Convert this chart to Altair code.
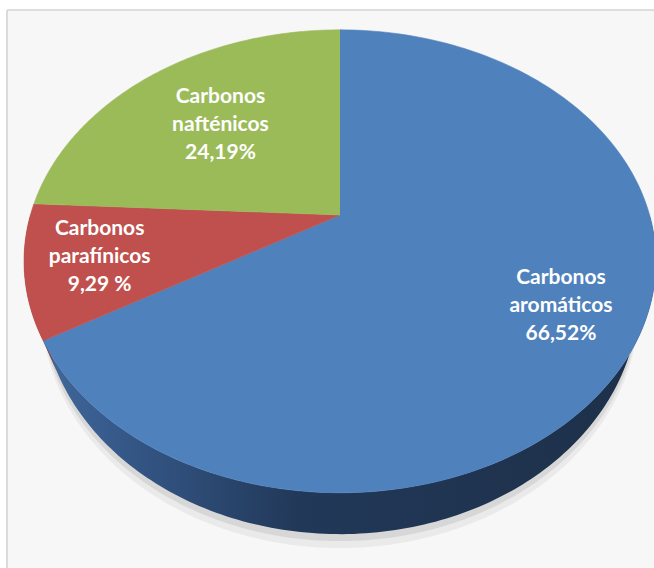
import math
import altair as alt
import pandas as pd

# ---- data (clockwise from 12 o'clock) ----
categories = ["Carbonos aromáticos", "Carbonos parafínicos", "Carbonos nafténicos"]
values = [66.52, 9.29, 24.19]
labels = ["Carbonos\naromáticos\n66,52%", "Carbonos\nparafínicos\n9,29 %", "Carbonos\nnafténicos\n24,19%"]
colors = ["#4F81BD", "#C0504D", "#9BBB59"]

# ---- styling / geometry of the 3-D look ----
K = 0.2          # perspective strength
DEPTH = 0.149    # rim depth (vertical units)
SHRINK = 0.945   # bottom edge horizontal scale
N = 160          # points per arc
LABEL_R = {"Carbonos aromáticos": 0.76, "Carbonos parafínicos": 0.77, "Carbonos nafténicos": 0.61}
W, H = 647, 558
PAD_L, PAD_T = 7, 10
CX, CY = 340, 215      # pie vertex in page pixels
RX, RY = 309.6, 222.2  # pixels per unit

xmin = -(CX - PAD_L) / RX
xmax = xmin + W / RX
ymax = (CY - PAD_T) / RY
ymin = ymax - H / RY
xs = alt.Scale(domain=[xmin, xmax], nice=False, zero=False)
ys = alt.Scale(domain=[ymin, ymax], nice=False, zero=False)

df = pd.DataFrame({
    "category": categories,
    "value": values,
    "order": list(range(len(categories))),
    "color": colors,
    "label": labels,
    "lr": [LABEL_R[c] for c in categories],
})

base = (
    alt.Chart(df)
    .transform_window(cum="sum(value)", sort=[alt.SortField("order")], frame=[None, 0])
    .transform_joinaggregate(total="sum(value)")
    .transform_calculate(
        start="2*PI*(datum.cum - datum.value)/datum.total",
        end="2*PI*datum.cum/datum.total",
    )
)

def xy_enc():
    return dict(
        x=alt.X("px:Q", scale=xs, axis=None),
        y=alt.Y("py:Q", scale=ys, axis=None),
        order="idx:Q",
        detail="category:N",
    )

# soft shadow under the pie (whole lowered ellipse, mostly hidden)
def shadow_layer(extra, op):
    return (
        base.transform_filter(f"datum.order == 0")
        .transform_calculate(idx=f"sequence(0, {2 * N + 1})")
        .transform_flatten(["idx"])
        .transform_calculate(th=f"2*PI*datum.idx/{2 * N}")
        .transform_calculate(
            px=f"{SHRINK}*sin(datum.th)/(1 + {K}*cos(datum.th))",
            py=f"(cos(datum.th) - {DEPTH + extra})/(1 + {K}*cos(datum.th))",
        )
        .mark_line(fill="#000000", fillOpacity=op, strokeWidth=0)
        .encode(**xy_enc())
    )

# rim (front side) as polygons: top arc forward, bottom arc backward
rim = (
    base.transform_calculate(a0="max(datum.start, PI/2)", a1="min(datum.end, 3*PI/2)")
    .transform_filter("datum.a1 > datum.a0")
    .transform_calculate(idx=f"sequence(0, {2 * N + 2})")
    .transform_flatten(["idx"])
    .transform_calculate(j=f"datum.idx <= {N} ? datum.idx : {2 * N + 1} - datum.idx")
    .transform_calculate(th=f"datum.a0 + (datum.a1 - datum.a0)*datum.j/{N}")
    .transform_calculate(
        px=f"(datum.idx <= {N} ? 1 : {SHRINK})*sin(datum.th)/(1 + {K}*cos(datum.th))",
        py=f"(cos(datum.th) - (datum.idx <= {N} ? 0 : {DEPTH}))/(1 + {K}*cos(datum.th))",
    )
)

blue_grad = alt.LinearGradient(
    gradient="linear",
    stops=[
        alt.GradientStop(offset=0, color="#40699A"),
        alt.GradientStop(offset=0.12, color="#36598A"),
        alt.GradientStop(offset=0.42, color="#213858"),
        alt.GradientStop(offset=1, color="#1E3049"),
    ],
    x1=0, x2=1, y1=0, y2=0,
)
rim_blue = rim.transform_filter("datum.order == 0").mark_line(
    fill=blue_grad, strokeWidth=0
).encode(**xy_enc())
rim_red = rim.transform_filter("datum.order == 1").mark_line(
    fill="#8E3B39", strokeWidth=0
).encode(**xy_enc())

# top face slices
top = (
    base.transform_calculate(idx=f"sequence(0, {N + 2})")
    .transform_flatten(["idx"])
    .transform_calculate(th=f"datum.start + (datum.end - datum.start)*(datum.idx - 1)/{N}")
    .transform_calculate(
        px=f"datum.idx == 0 ? 0 : sin(datum.th)/(1 + {K}*cos(datum.th))",
        py=f"datum.idx == 0 ? 0 : cos(datum.th)/(1 + {K}*cos(datum.th))",
    )
    .mark_line(strokeWidth=0.6, interpolate="linear")
    .encode(
        **xy_enc(),
        fill=alt.Fill("color:N", scale=None, legend=None),
        stroke=alt.Stroke("color:N", scale=None, legend=None),
    )
)

# labels
text = (
    base.transform_calculate(mid="(datum.start + datum.end)/2")
    .transform_calculate(
        px=f"datum.lr*sin(datum.mid)/(1 + {K}*datum.lr*cos(datum.mid))",
        py=f"datum.lr*cos(datum.mid)/(1 + {K}*datum.lr*cos(datum.mid))",
    )
    .mark_text(
        font="Lato", fontWeight="bold", fontSize=21, color="white",
        lineBreak="\n", lineHeight=28, align="center", baseline="middle", dy=-28,
    )
    .encode(
        x=alt.X("px:Q", scale=xs, axis=None),
        y=alt.Y("py:Q", scale=ys, axis=None),
        text="label:N",
    )
)

frame_left = alt.Chart(df).mark_rule(color="#D9D9D9", strokeWidth=1.2).encode(
    x=alt.value(0), y=alt.value(0), y2=alt.value(H)
)
frame_top = alt.Chart(df).mark_rule(color="#D9D9D9", strokeWidth=1.2).encode(
    y=alt.value(0), x=alt.value(0), x2=alt.value(W)
)

chart = (
    alt.layer(
        shadow_layer(0.05, 0.05), shadow_layer(0.025, 0.08),
        rim_blue, rim_red, top, text, frame_left, frame_top,
    )
    .properties(
        width=W, height=H,
        padding={"left": PAD_L, "top": PAD_T, "right": 0, "bottom": 0},
        autosize=alt.AutoSizeParams(type="none"),
        background="white",
    )
    .configure_view(stroke=None, fill="#F7F7F7")
)

chart.save("out.html", embed_options={"renderer": "svg", "actions": False})
